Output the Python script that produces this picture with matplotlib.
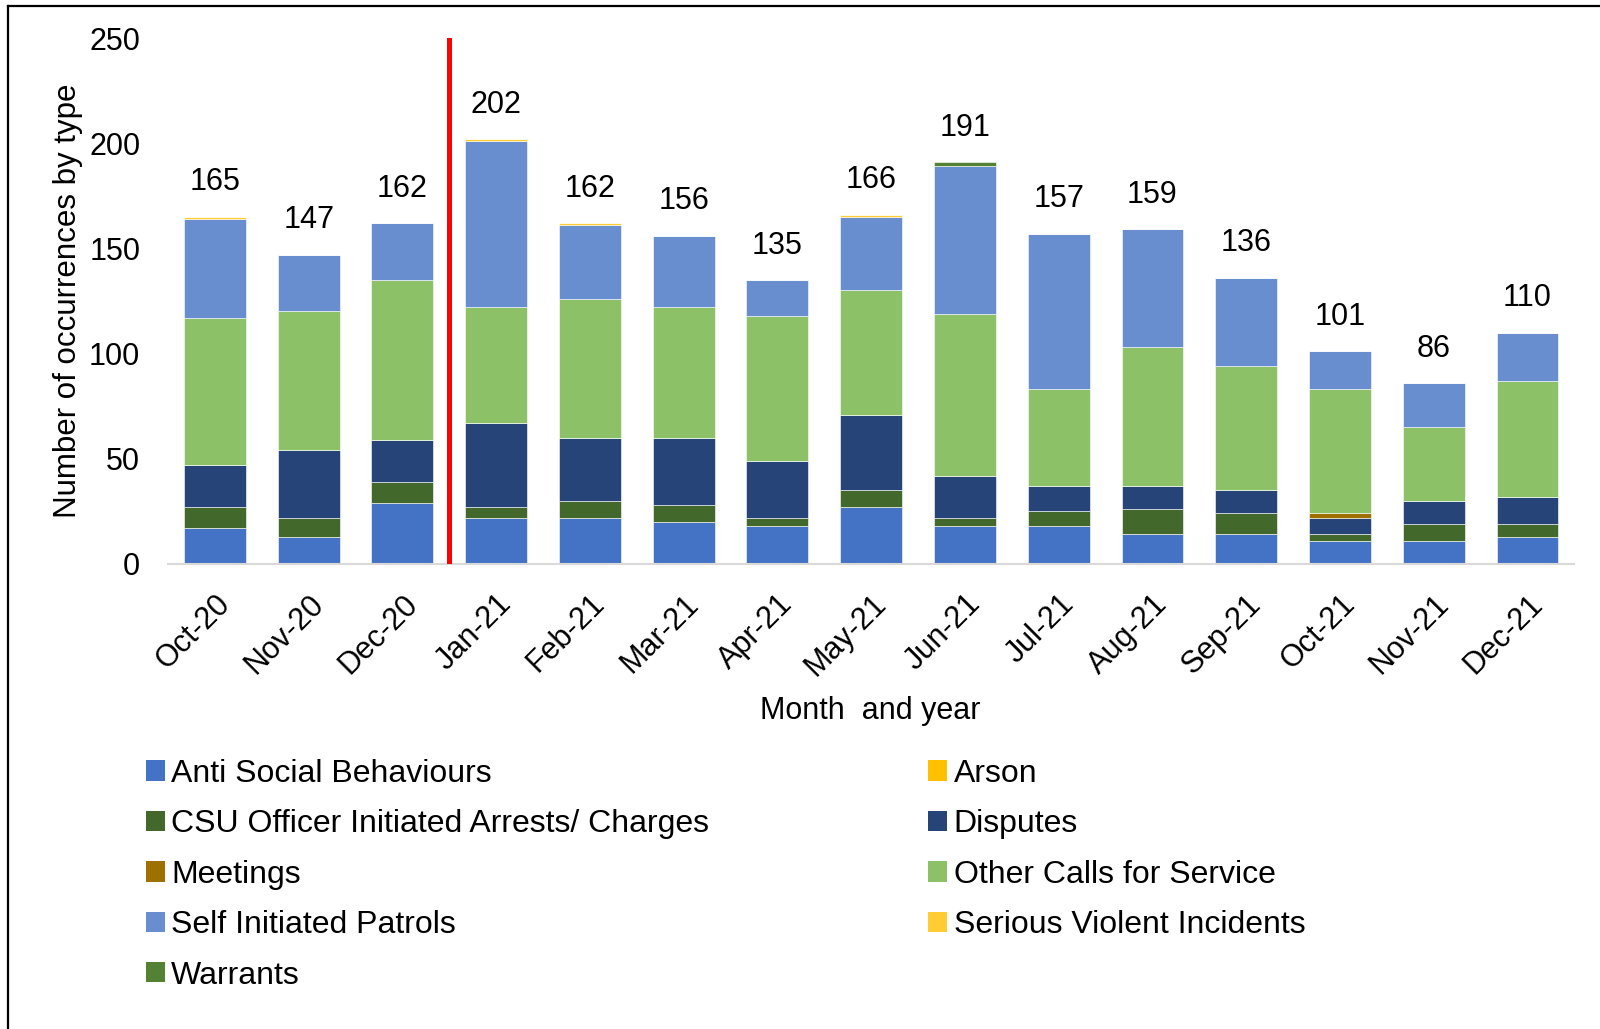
import numpy as np
import matplotlib
matplotlib.use("Agg")
import matplotlib.pyplot as plt
from matplotlib.patches import Patch
from matplotlib.lines import Line2D

plt.rcParams['font.family'] = ['Liberation Sans', 'DejaVu Sans']

months = ["Oct-20", "Nov-20", "Dec-20", "Jan-21", "Feb-21", "Mar-21", "Apr-21",
          "May-21", "Jun-21", "Jul-21", "Aug-21", "Sep-21", "Oct-21", "Nov-21", "Dec-21"]

# series values (stacked bottom to top)
anti_social = [17, 13, 29, 22, 22, 20, 18, 27, 18, 18, 14, 14, 11, 11, 13]
arson = [0, 0, 0, 0, 0, 0, 0, 0, 0, 0, 0, 0, 0, 0, 0]
csu_arrests = [10, 9, 10, 5, 8, 8, 4, 8, 4, 7, 12, 10, 3, 8, 6]
disputes = [20, 32, 20, 40, 30, 32, 27, 36, 20, 12, 11, 11, 8, 11, 13]
meetings = [0, 0, 0, 0, 0, 0, 0, 0, 0, 0, 0, 0, 2, 0, 0]
other_calls = [70, 66, 76, 55, 66, 62, 69, 59, 77, 46, 66, 59, 59, 35, 55]
self_patrols = [47, 27, 27, 79, 35, 34, 17, 35, 70, 74, 56, 42, 18, 21, 23]
serious_violent = [1, 0, 0, 1, 1, 0, 0, 1, 0, 0, 0, 0, 0, 0, 0]
warrants = [0, 0, 0, 0, 0, 0, 0, 0, 2, 0, 0, 0, 0, 0, 0]

series = [
    ("Anti Social Behaviours", anti_social, "#4472C4"),
    ("Arson", arson, "#FFC000"),
    ("CSU Officer Initiated Arrests/ Charges", csu_arrests, "#43682B"),
    ("Disputes", disputes, "#264478"),
    ("Meetings", meetings, "#9E7000"),
    ("Other Calls for Service", other_calls, "#8CC168"),
    ("Self Initiated Patrols", self_patrols, "#698ED0"),
    ("Serious Violent Incidents", serious_violent, "#FFCD33"),
    ("Warrants", warrants, "#548235"),
]

fig = plt.figure(figsize=(16, 10.29), dpi=100)
ax = fig.add_axes([0.105, 0.452, 0.879, 0.511])

x = np.arange(len(months))
bottom = np.zeros(len(months))
for name, vals, col in series:
    vals = np.array(vals, dtype=float)
    ax.bar(x, vals, 0.66, bottom=bottom, color=col, edgecolor="white", linewidth=0.4)
    bottom += vals

totals = bottom
for xi, t in zip(x, totals):
    ax.annotate(f"{int(t)}", (xi, t), xytext=(0, 14), textcoords="offset points",
                ha="center", va="bottom", fontsize=22)

ax.axvline(2.5, 0, 1, color="red", lw=3.6, zorder=5)

ax.set_ylim(0, 250)
ax.set_xlim(-0.5, len(months) - 0.5)
ax.set_yticks([0, 50, 100, 150, 200, 250])
ax.set_xticks(x)
ax.set_xticklabels(months, rotation=45, ha="right", rotation_mode="anchor", fontsize=22)
ax.tick_params(axis="both", length=0, labelsize=22)
ax.tick_params(axis="x", pad=18)
ax.tick_params(axis="y", pad=20)
for s in ["top", "right", "left"]:
    ax.spines[s].set_visible(False)
ax.spines["bottom"].set_color("#D9D9D9")
ax.spines["bottom"].set_linewidth(1.5)

ax.set_ylabel("Number of occurrences by type", fontsize=22.5, labelpad=4)
fig.text(0.544, 0.309, "Month  and year", ha="center", va="center", fontsize=22)

# legend, two columns filled row by row
def handle(col):
    return Patch(facecolor=col, edgecolor="none")

left = [series[i] for i in (0, 2, 4, 6, 8)]
right = [series[i] for i in (1, 3, 5, 7)]
kw = dict(frameon=False, fontsize=23, handlelength=0.6, handleheight=0.6,
          handletextpad=0.2, labelspacing=0.64, loc="upper left", borderaxespad=0)
fig.legend([handle(c) for _, _, c in left], [n for n, _, _ in left],
           bbox_to_anchor=(0.083, 0.275), **kw)
fig.legend([handle(c) for _, _, c in right], [n for n, _, _ in right],
           bbox_to_anchor=(0.572, 0.275), **kw)

# outer frame (top and left edges visible)
fig.add_artist(Line2D([0.005, 0.005], [0, 0.994], transform=fig.transFigure, color="black", lw=1.6))
fig.add_artist(Line2D([0.005, 1], [0.994, 0.994], transform=fig.transFigure, color="black", lw=1.6))

fig.savefig("out.png", dpi=100)
